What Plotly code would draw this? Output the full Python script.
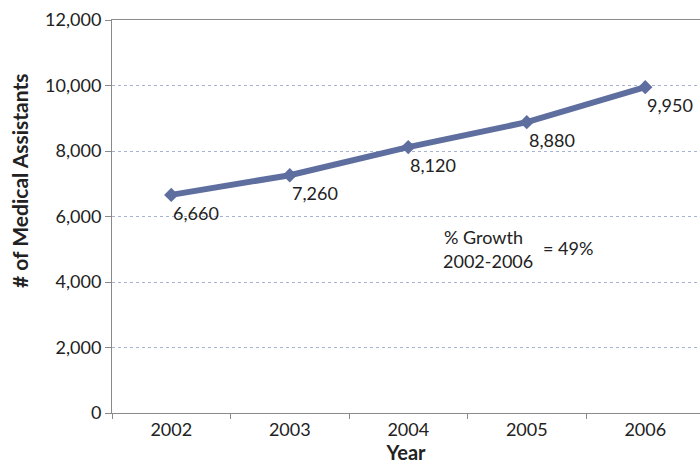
import plotly.graph_objects as go

years = [2002, 2003, 2004, 2005, 2006]
assistants = [6660, 7260, 8120, 8880, 9950]
value_labels = ["6,660", "7,260", "8,120", "8,880", "9,950"]
y_ticks = [0, 2000, 4000, 6000, 8000, 10000, 12000]
y_tick_labels = ["0", "2,000", "4,000", "6,000", "8,000", "10,000", "12,000"]

FONT = "Lato, 'Open Sans', sans-serif"
LINE = "#5E6E9F"
TXT = "#222"

fig = go.Figure()
fig.add_trace(go.Scatter(
    x=years, y=assistants, mode="lines+markers",
    line=dict(color=LINE, width=6),
    marker=dict(symbol="diamond", size=11, color=LINE),
    hoverinfo="skip", showlegend=False,
))

for x, y, t in zip(years, assistants, value_labels):
    fig.add_annotation(x=x, y=y, text=t, showarrow=False, xshift=25, yshift=-18,
                       font=dict(family=FONT, size=18, color=TXT))

def px(xp):
    return (xp - 112) / 588

def py(yp):
    return (413 - yp) / 393

fig.add_annotation(xref="paper", yref="paper", x=px(443), y=py(248.5),
                   xanchor="left", yanchor="bottom", showarrow=False, borderpad=0,
                   text="% Growth", font=dict(family=FONT, size=18, color=TXT))
fig.add_annotation(xref="paper", yref="paper", x=px(442), y=py(248.5),
                   xanchor="left", yanchor="top", showarrow=False, borderpad=0,
                   text="2002-2006", font=dict(family=FONT, size=18, color=TXT))
fig.add_annotation(xref="paper", yref="paper", x=px(568), y=py(248),
                   xanchor="center", yanchor="middle", showarrow=False,
                   text="= 49%", font=dict(family=FONT, size=18, color=TXT))

# y-axis title placed as in the reference (offset upward from plot centre)
fig.add_annotation(xref="paper", yref="paper", x=px(19), y=py(181),
                   xanchor="center", yanchor="middle", showarrow=False, textangle=-90,
                   text="<b># of Medical Assistants</b>",
                   font=dict(family=FONT, size=21, color=TXT))

fig.update_layout(
    width=700, height=465,
    margin=dict(l=112, r=0, t=20, b=52),
    paper_bgcolor="white", plot_bgcolor="white",
    font=dict(family=FONT, size=18, color=TXT),
    xaxis=dict(
        range=[2001.5, 2006.462], tickvals=years, ticktext=[str(y) for y in years],
        ticks="", showgrid=False, zeroline=False,
        showline=True, linecolor="#8A8A8A", linewidth=1, mirror=True,
        minor=dict(tickvals=[2001.5, 2002.5, 2003.5, 2004.5, 2005.5], ticks="outside",
                   ticklen=5, tickcolor="#8A8A8A", showgrid=False),
        tickfont=dict(size=18),
        title=dict(text="<b>Year</b>", font=dict(size=20), standoff=6),
    ),
    yaxis=dict(
        range=[0, 12000], tickvals=y_ticks, ticktext=y_tick_labels,
        ticks="outside", ticklen=6, tickcolor="#8A8A8A",
        showgrid=True, gridcolor="#A8B2D2", griddash="dot", gridwidth=1,
        zeroline=False, showline=True, linecolor="#8A8A8A", linewidth=1,
        tickfont=dict(size=18),
    ),
)

fig.write_html("out.html")
